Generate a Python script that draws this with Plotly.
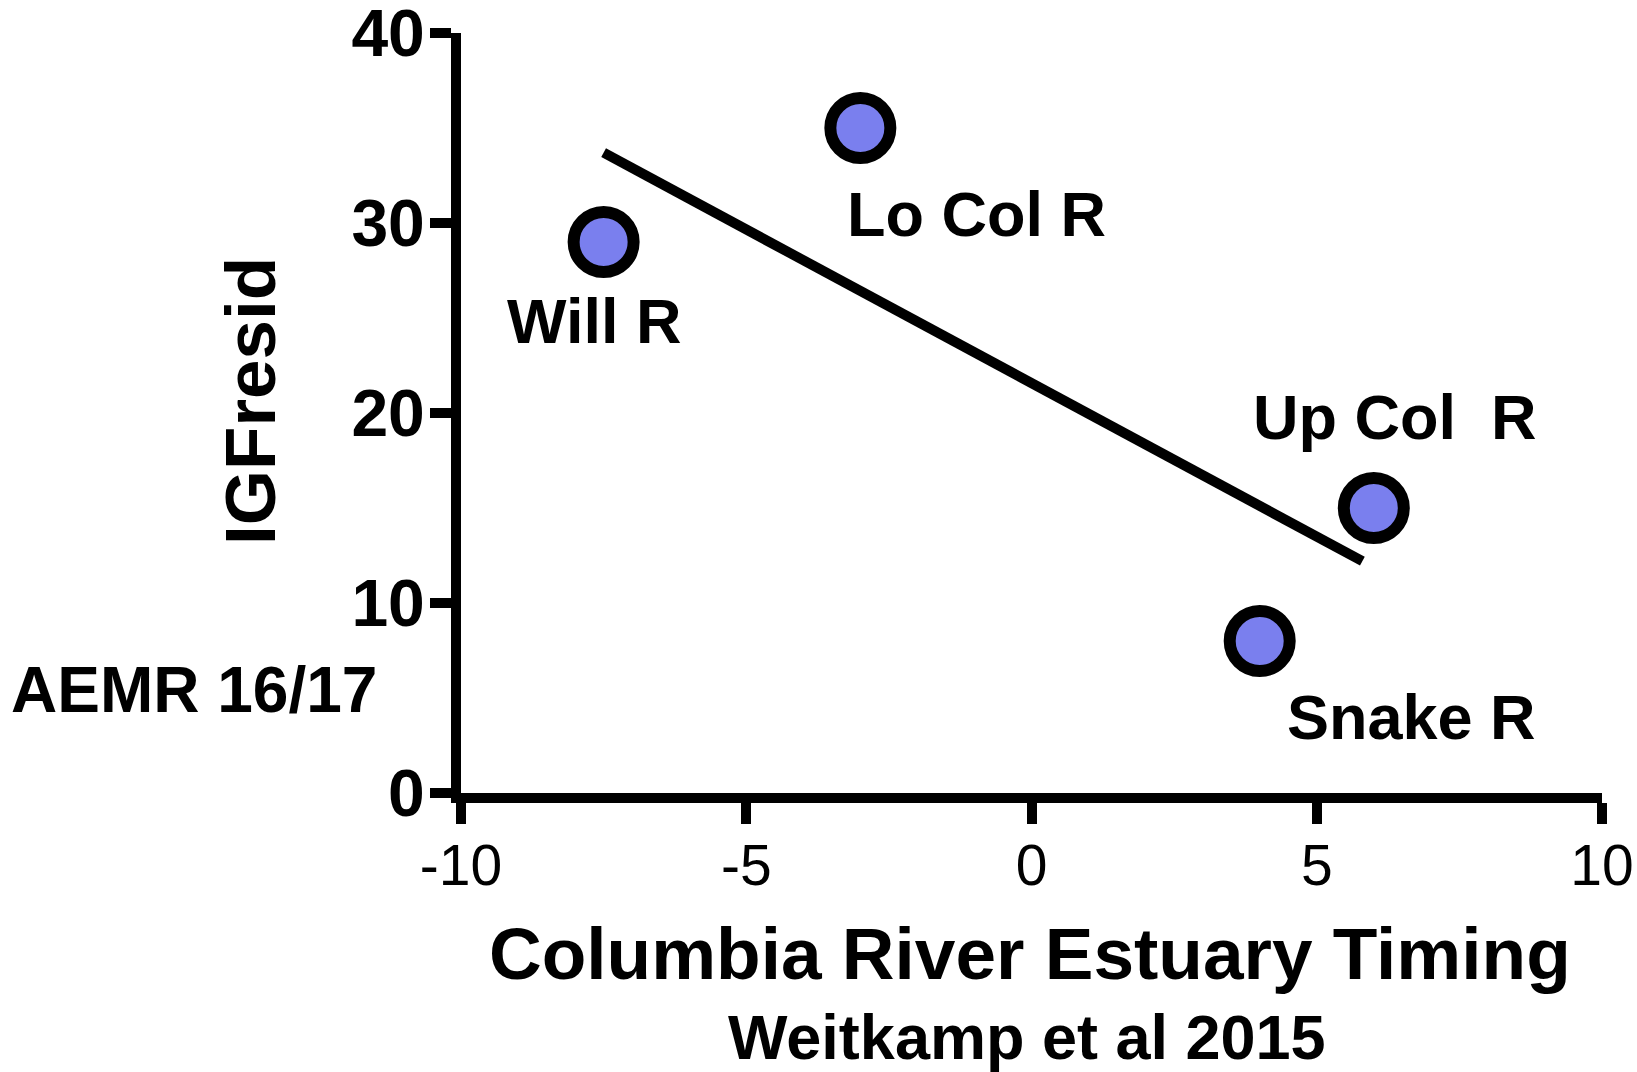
import plotly.graph_objects as go

# ---- data ----
rivers = ["Will R", "Lo Col R", "Up Col  R", "Snake R"]
timing = [-7.5, -3.0, 6.0, 4.0]          # Columbia River Estuary Timing
igf_resid = [29.0, 35.0, 15.0, 8.0]      # IGFresid
fit_x = [-7.5, 5.8]                      # regression line ends
fit_y = [33.7, 12.2]
x_ticks = [-10, -5, 0, 5, 10]
y_ticks = [0, 10, 20, 30, 40]

FONT = "Liberation Sans, Arial, sans-serif"

# pixel offsets of the point labels relative to each point (layout only)
label_offsets = {
    "Will R": (-10, -79),
    "Lo Col R": (116, -86),
    "Up Col  R": (21, 91),
    "Snake R": (152, -76),
}

fig = go.Figure()
fig.add_trace(go.Scatter(
    x=fit_x, y=fit_y, mode="lines",
    line=dict(color="black", width=10),
    hoverinfo="skip", showlegend=False,
))
fig.add_trace(go.Scatter(
    x=timing, y=igf_resid, mode="markers",
    marker=dict(size=60, color="#7A7FEE", line=dict(color="black", width=12)),
    showlegend=False, cliponaxis=False,
))

annotations = []
for name, xv, yv in zip(rivers, timing, igf_resid):
    dx, dy = label_offsets[name]
    annotations.append(dict(
        x=xv, y=yv, xref="x", yref="y", text=name, showarrow=False,
        xshift=dx, yshift=dy, xanchor="center", yanchor="middle",
        font=dict(family=FONT, size=63, color="black", weight="bold"),
    ))

annotations += [
    dict(text="IGFresid", x=-0.184, y=0.516, xref="paper", yref="paper",
         showarrow=False, textangle=-90, xanchor="center", yanchor="middle",
         font=dict(family=FONT, size=71, color="black", weight="bold")),
    dict(text="AEMR 16/17", x=-0.3965, y=0.135, xref="paper", yref="paper",
         showarrow=False, xanchor="left", yanchor="middle",
         font=dict(family=FONT, size=64, color="black", weight="bold")),
    dict(text="Columbia River Estuary Timing", x=0.4987, y=-0.2116,
         xref="paper", yref="paper", showarrow=False,
         xanchor="center", yanchor="middle",
         font=dict(family=FONT, size=73, color="black", weight="bold")),
    dict(text="Weitkamp et al 2015", x=0.496, y=-0.321,
         xref="paper", yref="paper", showarrow=False,
         xanchor="center", yanchor="middle",
         font=dict(family=FONT, size=63, color="black", weight="bold")),
]

axis_common = dict(
    showline=True, linewidth=10, linecolor="black",
    ticks="outside", ticklen=21, tickwidth=10, tickcolor="black",
    showgrid=False, zeroline=False, automargin=False,
    ticklabeloverflow="allow",
)

fig.update_layout(
    width=1637, height=1072,
    margin=dict(l=461, r=35, t=33, b=279),
    paper_bgcolor="white", plot_bgcolor="white",
    xaxis=dict(range=[-10, 10], tickvals=x_ticks,
               ticktext=[str(v) for v in x_ticks],
               tickfont=dict(family=FONT, size=57, color="black"),
               ticklabelstandoff=-7,
               **axis_common),
    yaxis=dict(range=[0, 40], tickvals=y_ticks,
               ticktext=[str(v) for v in y_ticks],
               tickfont=dict(family=FONT, size=66, color="black", weight="bold"),
               ticklabelstandoff=-8,
               **axis_common),
    annotations=annotations,
)

fig.write_html("out.html")
